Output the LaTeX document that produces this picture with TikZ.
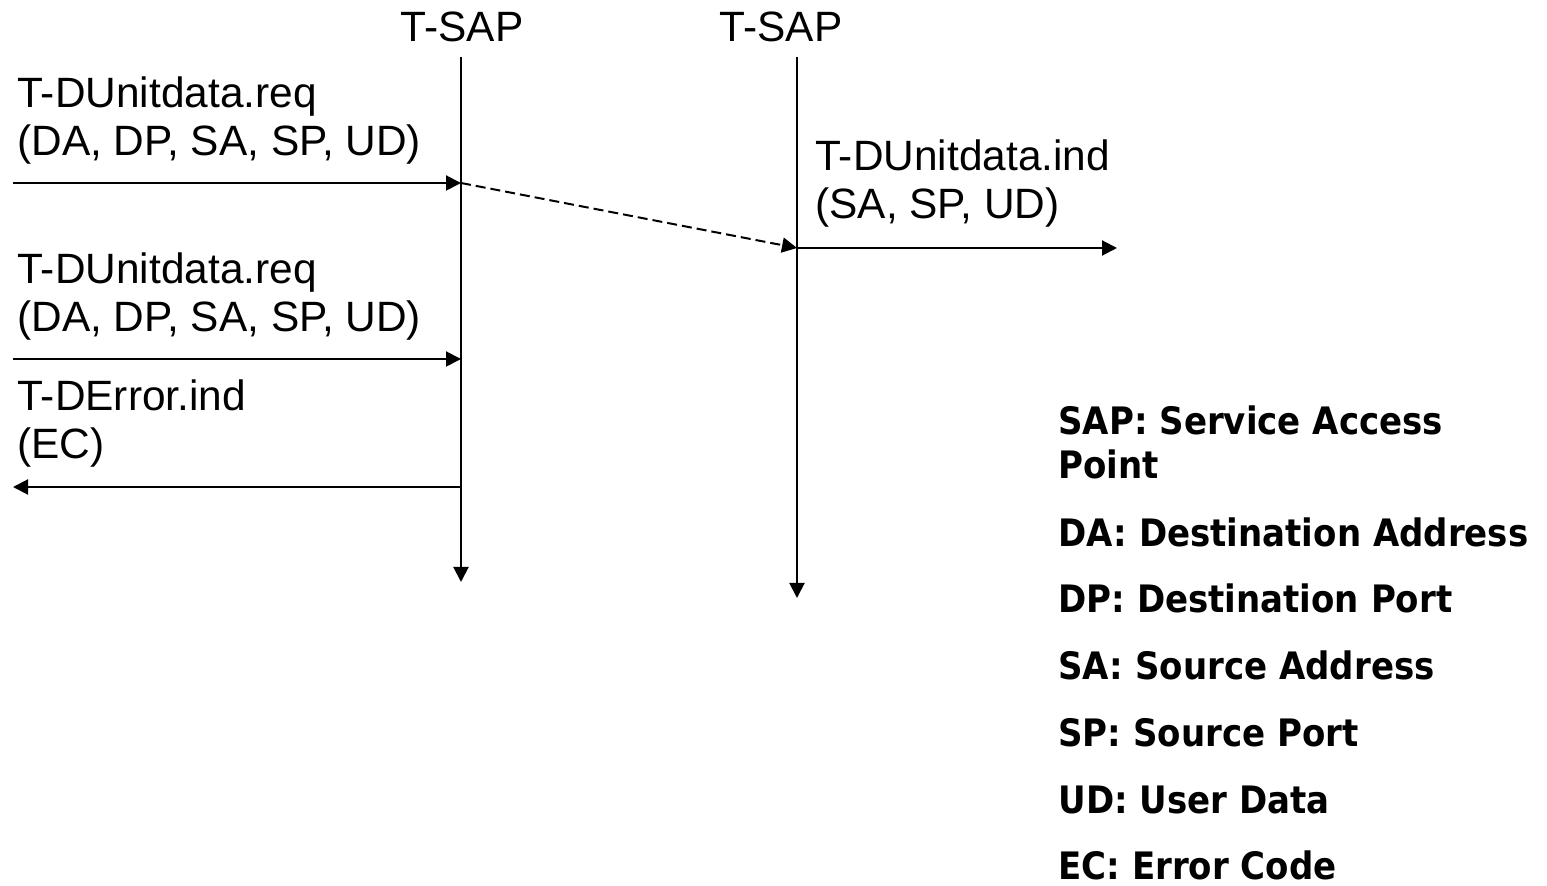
\documentclass[tikz,border=0pt]{standalone}
\usepackage{fontspec}
\setmainfont{Liberation Sans}
\newfontfamily\keyfont[FakeStretch=0.9]{DejaVu Sans}
\usetikzlibrary{arrows.meta}

\tikzset{
  msg/.style={line width=1pt, -{Triangle[length=7.5pt, width=7.5pt]}},
  lbl/.style={anchor=base west, inner sep=0pt, font=\fontsize{21.2}{25}\selectfont},
  key/.style={anchor=base west, inner sep=0pt, font=\keyfont\bfseries\fontsize{18.9}{22}\selectfont}
}

\begin{document}
\begin{tikzpicture}[x=0.5pt, y=-0.5pt]
  \useasboundingbox (0,0) rectangle (1547,886);

  % service access points
  \node[lbl, anchor=base] (sapA) at (462,42) {T-SAP};
  \node[lbl, anchor=base] (sapB) at (781,42) {T-SAP};
  \coordinate (lineAtop) at (461,57);
  \coordinate (lineAbot) at (461,582);
  \coordinate (lineBtop) at (797,57);
  \coordinate (lineBbot) at (797,598);
  \draw[msg] (lineAtop) -- (lineAbot);
  \draw[msg] (lineBtop) -- (lineBbot);

  % first request, delivered
  \node[lbl] (reqAa) at (17,108) {T-DUnitdata.req};
  \node[lbl] (reqAb) at (17,156) {(DA, DP, SA, SP, UD)};
  \coordinate (reqAin) at (13,183);
  \coordinate (reqAat) at (461,183);
  \draw[msg] (reqAin) -- (reqAat);

  \coordinate (indat) at (797,248);
  \coordinate (indout) at (1117,248);
  \draw[msg, dash pattern=on 5pt off 2.5pt] (reqAat) -- (indat);
  \node[lbl] (inda) at (815,171) {T-DUnitdata.ind};
  \node[lbl] (indb) at (815,219) {(SA, SP, UD)};
  \draw[msg] (indat) -- (indout);

  % second request, error
  \node[lbl] (reqBa) at (17,284) {T-DUnitdata.req};
  \node[lbl] (reqBb) at (17,332) {(DA, DP, SA, SP, UD)};
  \coordinate (reqBin) at (13,359);
  \coordinate (reqBat) at (461,359);
  \draw[msg] (reqBin) -- (reqBat);

  \node[lbl] (erra) at (17,411) {T-DError.ind};
  \node[lbl] (errb) at (17,459) {(EC)};
  \coordinate (errat) at (461,487);
  \coordinate (errout) at (13,487);
  \draw[msg] (errat) -- (errout);

  % legend
  \node[key] (keySAPa) at (1058,435) {SAP: Service Access};
  \node[key] (keySAPb) at (1058,479) {Point};
  \node[key] (keyDA) at (1058,547) {DA: Destination Address};
  \node[key] (keyDP) at (1058,613) {DP: Destination Port};
  \node[key] (keySA) at (1058,680) {SA: Source Address};
  \node[key] (keySP) at (1058,747) {SP: Source Port};
  \node[key] (keyUD) at (1058,813) {UD: User Data};
  \node[key] (keyEC) at (1058,879) {EC: Error Code};
\end{tikzpicture}
\end{document}
